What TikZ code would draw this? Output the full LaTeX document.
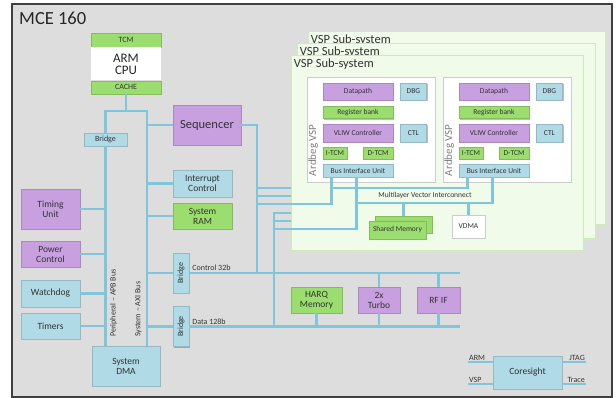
\documentclass[tikz,border=0pt]{standalone}
\usepackage{fontspec}
\setmainfont{Carlito}
\usepackage{graphicx}
\usetikzlibrary{positioning, calc, shadows}
\definecolor{mceGray}{RGB}{221,221,221}
\definecolor{mceGreen}{RGB}{155,221,110}
\definecolor{mcePurple}{RGB}{200,160,224}
\definecolor{mceBlue}{RGB}{175,218,230}
\definecolor{busBlue}{RGB}{125,198,220}
\definecolor{vspFill}{RGB}{241,251,234}
\definecolor{vspEdge}{RGB}{205,235,185}
\tikzset{
  mceBox/.style={rectangle, align=center, inner sep=1pt, line width=0.4pt, text=black!80, font=\fontsize{9.5}{10}\selectfont, drop shadow={shadow xshift=1.2pt, shadow yshift=-1.2pt, opacity=0.25, fill=black}},
  blkPurple/.style={mceBox, draw=mcePurple!85!black, fill=mcePurple},
  blkGreen/.style={mceBox, draw=mceGreen!85!black, fill=mceGreen},
  blkBlue/.style={mceBox, draw=mceBlue!85!black, fill=mceBlue},
  blkWhite/.style={mceBox, draw=black!20, fill=white},
  vspBox/.style={rectangle, draw=vspEdge, fill=vspFill, line width=0.8pt},
  vspTitle/.style={anchor=west, inner sep=1pt, text=black!80, font=\fontsize{12.5}{14}\selectfont},
  smallTxt/.style={font=\fontsize{8}{9}\selectfont},
  tinyTxt/.style={font=\fontsize{7.5}{8}\selectfont},
  lblTxt/.style={inner sep=1pt, text=black!80, font=\fontsize{8}{9}\selectfont},
  busLine/.style={draw=busBlue, line width=2.8pt},
  sideLine/.style={draw=busBlue, line width=1.4pt},
}

\begin{document}
\begin{tikzpicture}[x=1pt, y=-1pt]
\useasboundingbox (0,0) rectangle (616,398);
\fill[mceGray, draw=black!75, line width=1.2pt] (12,4) rectangle (612,397);
\node (title) [anchor=west, inner sep=0pt, text=black!85, font=\fontsize{18.5}{20}\selectfont] at (19,18) {MCE 160};

% VSP sub-systems, back to front
\node (vspBack) [vspBox, minimum width=297pt, minimum height=193pt] at (456.5,127.5) {};
\node [vspTitle] at ($(vspBack.north west)+(2,10)$) {VSP Sub-system};
\node (vspMid) [vspBox, minimum width=298pt, minimum height=195pt] at (446,140.5) {};
\node [vspTitle] at ($(vspMid.north west)+(2,10)$) {VSP Sub-system};
\node (vspFront) [vspBox, minimum width=292pt, minimum height=195pt] at (437,152.5) {};
\node [vspTitle] at ($(vspFront.north west)+(2,10)$) {VSP Sub-system};

\foreach \s/\cx in {L/371, R/507} {
  \node (core\s) [blkWhite, minimum width=128pt, minimum height=105pt] at (\cx,129.5) {};
  \node (dp\s) [blkPurple, tinyTxt, minimum width=70pt, minimum height=17pt, below right=6pt and 16pt of core\s.north west] {Datapath};
  \node (dbg\s) [blkBlue, tinyTxt, minimum width=26pt, minimum height=17pt, right=7pt of dp\s] {DBG};
  \node (rb\s) [blkGreen, tinyTxt, minimum width=70pt, minimum height=12pt, below=6pt of dp\s] {Register bank};
  \node (vliw\s) [blkPurple, tinyTxt, minimum width=70pt, minimum height=18pt, below=5pt of rb\s] {VLIW Controller};
  \node (ctl\s) [blkBlue, tinyTxt, minimum width=26pt, minimum height=18pt, right=7pt of vliw\s] {CTL};
  \node (itcm\s) [blkGreen, tinyTxt, minimum width=24pt, minimum height=12pt, below right=5pt and 0pt of vliw\s.south west] {I-TCM};
  \node (dtcm\s) [blkGreen, tinyTxt, minimum width=30pt, minimum height=12pt, below left=5pt and 0pt of vliw\s.south east] {D-TCM};
  \node (biu\s) [blkBlue, tinyTxt, minimum width=70pt, minimum height=13pt, below=22pt of vliw\s] {Bus Interface Unit};
  \node [rotate=90, inner sep=0pt, text=black!50, font=\fontsize{11}{12}\selectfont] at ($(core\s.south west)+(6.5,-32)$) {Ardbeg VSP};
  \coordinate (biuA\s) at ($(biu\s.south west)+(9,0)$);
  \coordinate (biuB\s) at ($(biu\s.south west)+(34,0)$);
}

\node (shMemBack) [blkGreen, minimum width=57pt, minimum height=17pt] at (403.5,224.5) {};
\node (shMem) [blkGreen, tinyTxt, minimum width=57pt, minimum height=18pt] at (397.5,230) {Shared Memory};
\node (vdma) [blkWhite, tinyTxt, minimum width=33pt, minimum height=23pt] at (468.5,226.5) {VDMA};

% ARM CPU
\node (cpuTcm) [blkGreen, smallTxt, minimum width=70pt, minimum height=14pt] at (126,40) {TCM};
\node (cpu) [rectangle, fill=white, align=center, text=black!85, font=\fontsize{13}{12}\selectfont, minimum width=70pt, minimum height=33pt, below=0pt of cpuTcm] {ARM\\CPU};
\node (cpuCache) [blkGreen, smallTxt, minimum width=70pt, minimum height=13pt, below=0pt of cpu] {CACHE};

% Peripherals and system blocks
\node (timing) [blkPurple, minimum width=59pt, minimum height=40pt] at (50.5,209) {Timing\\Unit};
\node (power) [blkPurple, minimum width=59pt, minimum height=26pt] at (50.5,254) {Power\\Control};
\node (watchdog) [blkBlue, minimum width=59pt, minimum height=27pt] at (50.5,293.5) {Watchdog};
\node (timers) [blkBlue, minimum width=59pt, minimum height=26pt] at (50.5,326) {Timers};
\node (sysDma) [blkBlue, minimum width=68pt, minimum height=40pt] at (126,366) {System\\DMA};
\node (brApb) [blkBlue, smallTxt, minimum width=43pt, minimum height=13pt] at (105.5,139.5) {Bridge};
\node (seq) [blkPurple, font=\fontsize{12.5}{13}\selectfont, minimum width=68pt, minimum height=40pt] at (207,125) {Sequencer};
\node (irq) [blkBlue, minimum width=59pt, minimum height=27pt] at (202.5,183.5) {Interrupt\\Control};
\node (sysRam) [blkGreen, minimum width=59pt, minimum height=26pt] at (202.5,216) {System\\RAM};
\node (brCtrl) [blkBlue, smallTxt, minimum width=16pt, minimum height=40pt] at (181,273) {\rotatebox{90}{Bridge}};
\node (brData) [blkBlue, smallTxt, minimum width=16pt, minimum height=40pt] at (181,326.5) {\rotatebox{90}{Bridge}};
\node (harq) [blkGreen, minimum width=51pt, minimum height=26pt] at (316.5,300) {HARQ\\Memory};
\node (turbo) [blkPurple, minimum width=42pt, minimum height=26pt] at (379,300) {2x\\Turbo};
\node (rfIf) [blkPurple, minimum width=43pt, minimum height=26pt] at (438.5,300) {RF IF};
\node (coresight) [blkBlue, minimum width=69pt, minimum height=33pt] at (527.5,372.5) {Coresight};

% Buses
\coordinate (apbTop) at (105.5,111);
\coordinate (axiTop) at (147,111);
\coordinate (ctrlX) at (257,273);
\coordinate (dataX) at (274,326.5);
\coordinate (ctrlEnd) at (460,273);
\coordinate (dataEnd) at (460,326.5);
\draw[busLine] (brApb.north) |- (axiTop) -- (axiTop |- sysDma.north);
\draw[busLine] (cpuCache.south) -- (cpuCache.south |- apbTop);
\draw[busLine] (brApb.south) -- (brApb.south |- sysDma.north);
\foreach \blk in {timing, power, watchdog, timers}
  \draw[busLine] (\blk.east) -- (\blk.east -| apbTop);
\foreach \blk in {seq, irq, sysRam, brCtrl, brData}
  \draw[busLine] (\blk.west -| axiTop) -- (\blk.west);
\draw[busLine] (brCtrl.east) -- (ctrlEnd);
\draw[busLine] (brData.east) -- (dataEnd);
\draw[busLine] (seq.east) -| (ctrlX);
\draw[busLine] (dataX) |- (vspFront.west |- 0,213);
\foreach \yy in {188,196}
  \draw[busLine] (ctrlX |- 0,\yy) -- (vspFront.west |- 0,\yy);
\draw[busLine] (dataX |- 0,221) -- (vspFront.west |- 0,221);
\draw[busLine] (ctrlX |- 0,204) -| (biuAL);
\draw[busLine] (dataX |- 0,229) -| (biuBL);

% Multilayer interconnect
\draw[busLine] (biuAL |- 0,188) -| (biuAR);
\draw[busLine] (biuBL |- 0,203) -| (biuBR);
\draw[busLine] (shMemBack.north |- 0,203) -- (shMemBack.north);
\draw[busLine] (vdma.north |- 0,203) -- (vdma.north);
\node (mvi) [tinyTxt, text=black!80, inner sep=0pt] at (425,196) {Multilayer Vector Interconnect};

% Baseband blocks
\draw[busLine] (harq.south) -- (harq.south |- dataEnd);
\draw[busLine] (turbo.north) -- (turbo.north |- ctrlEnd);
\draw[busLine] (turbo.south) -- (turbo.south |- dataEnd);
\draw[busLine] (rfIf.north) -- (rfIf.north |- ctrlEnd);
\draw[busLine] (rfIf.south) -- (rfIf.south |- dataEnd);

\node [lblTxt, above right=1pt and 2pt of brCtrl.east] {Control 32b};
\node [lblTxt, above right=1pt and 2pt of brData.east] {Data 128b};
\node [lblTxt, rotate=90, anchor=west] at (113.5,338) {Peripheral -- APB Bus};
\node [lblTxt, rotate=90, anchor=west] at (138.5,338) {System -- AXI Bus};

% Debug
\coordinate (armIn) at (468,362);
\coordinate (vspIn) at (468,384);
\coordinate (jtagOut) at (586,362);
\coordinate (traceOut) at (586,384);
\draw[sideLine] (armIn) -- (armIn -| coresight.west);
\draw[sideLine] (vspIn) -- (vspIn -| coresight.west);
\draw[sideLine] (coresight.east |- jtagOut) -- (jtagOut);
\draw[sideLine] (coresight.east |- traceOut) -- (traceOut);
\node [lblTxt, anchor=south west] at (armIn) {ARM};
\node [lblTxt, anchor=south west] at (vspIn) {VSP};
\node [lblTxt, anchor=south east] at (jtagOut) {JTAG};
\node [lblTxt, anchor=south east] at (traceOut) {Trace};
\end{tikzpicture}
\end{document}
